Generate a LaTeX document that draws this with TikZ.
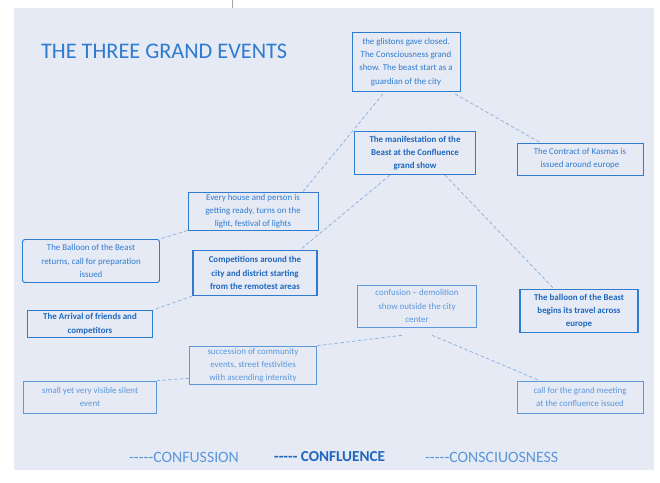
\documentclass[tikz,border=0pt]{standalone}
\usepackage{fontspec}
\setmainfont{Carlito}
\setsansfont{Carlito}
\usetikzlibrary{positioning,calc}
\definecolor{evblue}{HTML}{2F7BCF}
\definecolor{evdark}{HTML}{1E66BE}
\definecolor{evlight}{HTML}{5B97DA}
\definecolor{evpale}{HTML}{86B0E3}
\definecolor{evbg}{HTML}{E5EAF5}
\newcommand{\evdash}{\mbox{-}\mbox{-}\mbox{-}\mbox{-}\mbox{-}}

\begin{document}
\begin{tikzpicture}[x=0.03cm, y=-0.03cm, font=\sffamily,
    evbox/.style={draw=evblue, align=center, inner sep=1pt,
        font=\sffamily\fontsize{7.6}{11.3}\selectfont},
    confluence/.style={evbox, line width=1.1pt, text=evdark,
        font=\sffamily\bfseries\fontsize{7.6}{11.3}\selectfont},
    conscious/.style={evbox, line width=0.8pt, text=evblue},
    confusion/.style={evbox, draw=evlight, line width=0.5pt, text=evlight},
    link/.style={draw=evpale, line width=0.6pt, densely dashed}]

%%% ---------- MARCO ----------
\useasboundingbox (0,0) rectangle (660,483);
\fill[evbg] (14,8) rectangle (654,470);
\draw[gray!70, line width=0.5pt] (232,0) -- (232,8);

% Titulo
\node[anchor=west, text=evblue, font=\sffamily\fontsize{19}{22}\selectfont]
    (title) at (37,51) {THE THREE GRAND EVENTS};

%%% ---------- CAJAS ----------
\node[conscious, minimum width=108*0.03cm, minimum height=59*0.03cm]
    (glist) at (406,62)
    {the glistons gave closed.\\ The Consciousness grand\\ show. The beast start as a\\ guardian of the city};
\node[confluence, minimum width=121*0.03cm, minimum height=43*0.03cm]
    (manif) at (415,153)
    {The manifestation of the\\ Beast at the Confluence\\ grand show};
\node[conscious, minimum width=126*0.03cm, minimum height=32*0.03cm]
    (contract) at (580,159)
    {The Contract of Kasmas is\\ issued around europe};
\node[conscious, minimum width=130*0.03cm, minimum height=38*0.03cm]
    (house) at (253,211)
    {Every house and person is\\ getting ready, turns on the\\ light, festival of lights};
\node[conscious, rounded corners=2pt, minimum width=137*0.03cm, minimum height=43*0.03cm]
    (returns) at (91,261)
    {The Balloon of the Beast\\ returns, call for preparation\\ issued};
\node[confluence, minimum width=124*0.03cm, minimum height=45*0.03cm]
    (comp) at (255,273)
    {Competitions around the\\ city and district starting\\ from the remotest areas};
\node[confluence, minimum width=125*0.03cm, minimum height=27*0.03cm]
    (arrival) at (90,324)
    {The Arrival of friends and\\ competitors};
\node[confusion, minimum width=119*0.03cm, minimum height=42*0.03cm]
    (confus) at (417,306)
    {confusion -- demolition\\ show outside the city\\ center};
\node[confluence, minimum width=118*0.03cm, minimum height=43*0.03cm]
    (travel) at (579,311)
    {The balloon of the Beast\\ begins its travel across\\ europe};
\node[confusion, minimum width=127*0.03cm, minimum height=38*0.03cm]
    (succ) at (253,365)
    {succession of community\\ events, street festivities\\ with ascending intensity};
\node[confusion, minimum width=133*0.03cm, minimum height=32*0.03cm]
    (small) at (90,397)
    {small yet very visible silent\\ event};
\node[confusion, minimum width=126*0.03cm, minimum height=32*0.03cm]
    (meeting) at (580,397)
    {call for the grand meeting\\ at the confluence issued};

%%% ---------- CONEXIONES ----------
\draw[link] ($(glist.south)+(-23,2)$) -- ($(house.north)+(50,0)$);
\draw[link] ($(glist.south)+(49,2)$) -- ($(contract.north)+(-40,0)$);
\draw[link] ($(manif.south)+(-25,0)$) -- ($(comp.north)+(45,0)$);
\draw[link] ($(manif.south)+(30,0)$) -- ($(travel.north)+(-25,0)$);
\draw[link] (house.south west) -- (returns.north east);
\draw[link] (comp.south west) -- (arrival.north east);
\draw[link] ($(confus.south)+(-15,8)$) -- (succ.north east);
\draw[link] ($(confus.south)+(15,8)$) -- ($(meeting.north)+(-40,0)$);
\draw[link] ($(succ.south west)+(0,-6)$) -- (small.north east);

%%% ---------- LEYENDA ----------
\node[anchor=west, text=evlight, font=\sffamily\fontsize{13.5}{15}\selectfont]
    (lconfusion) at (125,457) {\evdash CONFUSSION};
\node[anchor=west, text=evdark, font=\sffamily\bfseries\fontsize{13}{15}\selectfont]
    (lconfluence) at (270,457) {\evdash{} CONFLUENCE};
\node[anchor=west, text=evlight, font=\sffamily\fontsize{13.5}{15}\selectfont]
    (lconscious) at (421,457) {\evdash CONSCIUOSNESS};

\end{tikzpicture}
\end{document}
